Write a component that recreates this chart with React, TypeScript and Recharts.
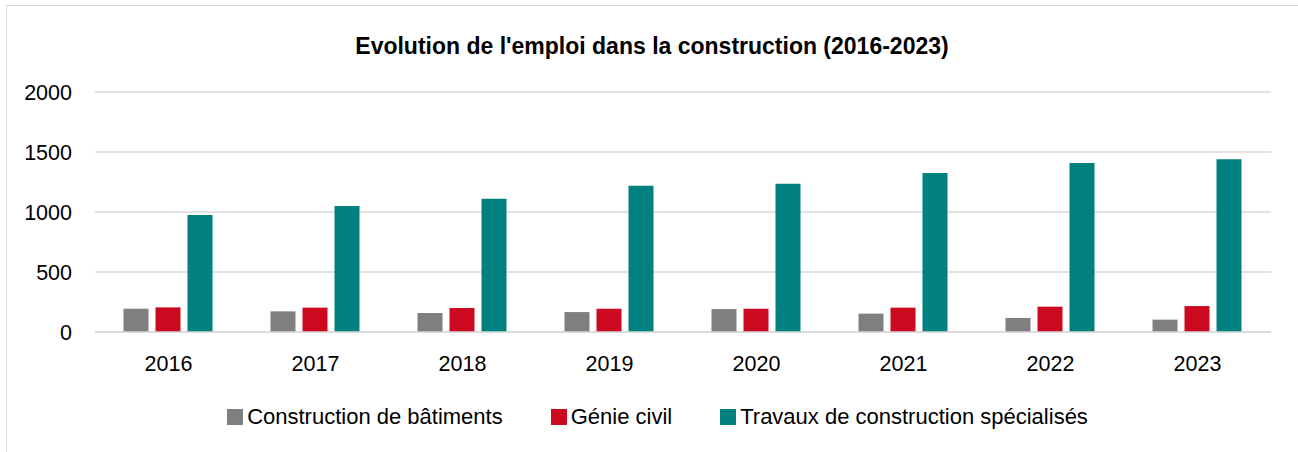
import { BarChart, Bar, XAxis, YAxis, CartesianGrid, Legend } from 'recharts';

const years = ['2016', '2017', '2018', '2019', '2020', '2021', '2022', '2023'];
const batiments = [194, 172, 158, 166, 191, 153, 117, 103];
const genieCivil = [205, 203, 200, 194, 194, 203, 211, 216];
const travauxSpec = [976, 1049, 1110, 1218, 1235, 1326, 1409, 1440];
const yTicks = [0, 500, 1000, 1500, 2000];

const FONT = '"Liberation Sans", Arial, sans-serif';
const COLORS = { bat: '#7F7F7F', gc: '#CC0A1F', ts: '#008080' };

const data = years.map((y, i) => ({
  year: y,
  bat: batiments[i],
  gc: genieCivil[i],
  ts: travauxSpec[i],
}));

function LegendContent({ payload }: any) {
  return (
    <div
      style={{
        display: 'flex',
        justifyContent: 'center',
        gap: 48,
        paddingLeft: 17,
        fontFamily: FONT,
        fontSize: 22,
        lineHeight: '25px',
        color: '#000',
      }}
    >
      {(payload || []).map((p: any) => (
        <span key={p.value} style={{ display: 'flex', alignItems: 'center' }}>
          <span
            style={{ width: 16, height: 16, background: p.color, marginRight: 4, display: 'inline-block' }}
          />
          {p.value}
        </span>
      ))}
    </div>
  );
}

export default function App() {
  return (
    <div
      style={{
        position: 'absolute',
        left: 0,
        top: 0,
        width: 1298,
        height: 452,
        overflow: 'hidden',
        background: '#fff',
      }}
    >
      <div
        style={{
          position: 'absolute',
          left: 6,
          top: 5,
          width: 1298,
          height: 452,
          border: '1px solid #d9d9d9',
        }}
      />
      <div
        style={{
          position: 'absolute',
          left: 0,
          top: 35,
          width: 1304,
          textAlign: 'center',
          fontFamily: FONT,
          fontWeight: 'bold',
          fontSize: 23,
          lineHeight: '23px',
          color: '#000',
        }}
      >
        Evolution de l'emploi dans la construction (2016-2023)
      </div>
      <div style={{ position: 'absolute', left: 0, top: 0 }}>
        <BarChart
          width={1298}
          height={452}
          data={data}
          margin={{ top: 92, right: 27, left: 0, bottom: 80 }}
          barCategoryGap={28.5}
          barGap={7}
        >
          <CartesianGrid vertical={false} stroke="#d9d9d9" strokeWidth={1.5} />
          <XAxis
            dataKey="year"
            height={40}
            tickLine={false}
            axisLine={{ stroke: '#d9d9d9', strokeWidth: 1.5 }}
            tickMargin={18}
            tick={{ fontSize: 21.5, fill: '#000', fontFamily: FONT }}
          />
          <YAxis
            width={95}
            domain={[0, 2000]}
            ticks={yTicks}
            axisLine={false}
            tickLine={false}
            tickMargin={17}
            tick={{ fontSize: 21.5, fill: '#000', fontFamily: FONT }}
          />
          <Legend
            content={<LegendContent />}
            wrapperStyle={{ top: 404, left: 0, bottom: 'auto', width: 1298, height: 0 }}
          />
          <Bar dataKey="bat" name="Construction de bâtiments" fill={COLORS.bat} isAnimationActive={false} />
          <Bar dataKey="gc" name="Génie civil" fill={COLORS.gc} isAnimationActive={false} />
          <Bar dataKey="ts" name="Travaux de construction spécialisés" fill={COLORS.ts} isAnimationActive={false} />
        </BarChart>
      </div>
    </div>
  );
}
